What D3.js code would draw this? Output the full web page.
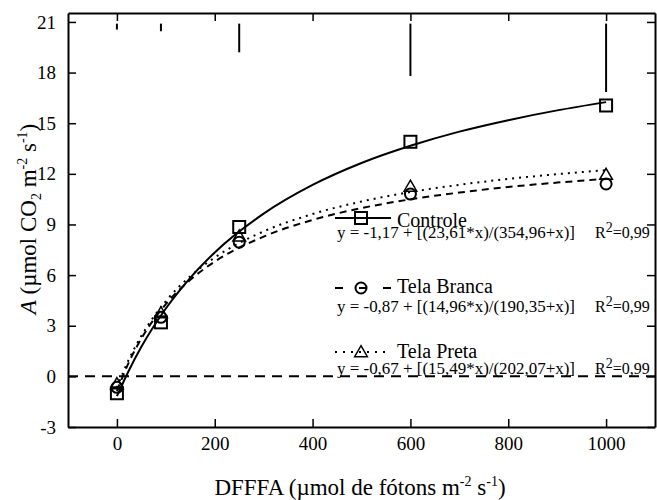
<!DOCTYPE html>
<html>
<head>
<meta charset="utf-8">
<script src="https://cdn.jsdelivr.net/npm/d3@7"></script>
<style>
  body { margin: 0; background: #fff; }
  svg text { font-family: "Liberation Serif", "Times New Roman", serif; fill: #000; }
  .axis path, .axis line { stroke: #000; }
</style>
</head>
<body>
<div id="chart"></div>
<script>

// Measured points
var light = [0, 90, 250, 600, 1000]
var controle = [-1.0, 3.2, 8.85, 13.9, 16.05]
var telaBranca = [-0.65, 3.5, 7.95, 10.8, 11.4]
var telaPreta = [-0.45, 3.75, 8.3, 11.25, 11.95]

// Error bars (hang from the top of the plot)
var errUpper = [20.9, 20.9, 20.9, 20.9, 20.9]
var errLower = [20.55, 20.45, 19.2, 17.8, 16.85]

// Fitted curves
var fitX = [0, 25, 50, 100, 150, 200, 300, 400, 500, 600, 700, 800, 900, 1000]
var fitControle = [-1.17, 0.38, 1.75, 4.02, 5.84, 7.34, 9.64, 11.34, 12.64, 13.66, 14.50, 15.18, 15.76, 16.25]
var fitBranca = [-0.87, 0.87, 2.24, 4.28, 5.72, 6.80, 8.28, 9.27, 9.97, 10.49, 10.89, 11.22, 11.48, 11.70]
var fitPreta = [-0.67, 1.04, 2.40, 4.46, 5.93, 7.04, 8.59, 9.62, 10.36, 10.92, 11.35, 11.70, 11.98, 12.22]

var xTicks = [0, 200, 400, 600, 800, 1000]
var yTicks = [-3, 0, 3, 6, 9, 12, 15, 18, 21]

var legendNames = ["Controle", "Tela Branca", "Tela Preta"]
var equations = [
	"y = -1,17 + [(23,61*x)/(354,96+x)]",
	"y = -0,87 + [(14,96*x)/(190,35+x)]",
	"y = -0,67 + [(15,49*x)/(202,07+x)]"
]
var r2 = ["0,99", "0,99", "0,99"]

var width = 657, height = 500
var mLeft = 68, mRight = 655, mTop = 13, mBottom = 427

var svg = d3.select("#chart").append("svg")
	.attr("width", width)
	.attr("height", height)

var x = d3.scaleLinear().domain([-100, 1100]).range([mLeft, mRight])
var y = d3.scaleLinear().domain([-3, 21.53]).range([mBottom, mTop])

var plain = function(d) { return String(d) }

// axes, ticks pointing inward
svg.append("g")
	.attr("class", "axis")
	.attr("transform", "translate(0," + mBottom + ")")
	.call(d3.axisBottom(x).tickValues(xTicks).tickSize(-8).tickSizeOuter(0).tickPadding(10).tickFormat(plain))

svg.append("g")
	.attr("class", "axis")
	.attr("transform", "translate(0," + mTop + ")")
	.call(d3.axisTop(x).tickValues(xTicks).tickSize(-8).tickSizeOuter(0).tickFormat(""))

svg.append("g")
	.attr("class", "axis")
	.attr("transform", "translate(" + mLeft + ",0)")
	.call(d3.axisLeft(y).tickValues(yTicks).tickSize(-8).tickSizeOuter(0).tickPadding(12).tickFormat(plain))

svg.append("g")
	.attr("class", "axis")
	.attr("transform", "translate(" + mRight + ",0)")
	.call(d3.axisRight(y).tickValues(yTicks).tickSize(-8).tickSizeOuter(0).tickFormat(""))

svg.selectAll(".axis path").attr("stroke-width", 2)
svg.selectAll(".axis line").attr("stroke-width", 1.5)
svg.selectAll(".axis text").attr("font-size", 19).attr("font-family", "Liberation Serif")

// zero line
svg.append("line")
	.attr("x1", mLeft).attr("x2", mRight)
	.attr("y1", y(0)).attr("y2", y(0))
	.attr("stroke", "#000")
	.attr("stroke-width", 2)
	.attr("stroke-dasharray", "10,7")

// error bars
light.forEach(function(d, i) {
	svg.append("line")
		.attr("x1", x(d)).attr("x2", x(d))
		.attr("y1", y(errUpper[i])).attr("y2", y(errLower[i]))
		.attr("stroke", "#000")
		.attr("stroke-width", 2)
})

// fitted curves
var series = [
	{ fit: fitControle, pts: controle, dash: null, marker: "square" },
	{ fit: fitBranca, pts: telaBranca, dash: "7,5", marker: "circle" },
	{ fit: fitPreta, pts: telaPreta, dash: "2,5", marker: "triangle" }
]

var line = d3.line()
	.x(function(d) { return x(d[0]) })
	.y(function(d) { return y(d[1]) })
	.curve(d3.curveMonotoneX)

series.forEach(function(s) {
	svg.append("path")
		.datum(fitX.map(function(v, i) { return [v, s.fit[i]] }))
		.attr("d", line)
		.attr("fill", "none")
		.attr("stroke", "#000")
		.attr("stroke-width", 2)
		.attr("stroke-dasharray", s.dash)
})

// open markers, the curves show through them
function marker(g, type, cx, cy) {
	if (type === "square") {
		g.append("rect")
			.attr("x", cx - 6).attr("y", cy - 6)
			.attr("width", 12).attr("height", 12)
			.attr("fill", "none").attr("stroke", "#000").attr("stroke-width", 2)
	} else if (type === "circle") {
		g.append("circle")
			.attr("cx", cx).attr("cy", cy).attr("r", 5.5)
			.attr("fill", "none").attr("stroke", "#000").attr("stroke-width", 2)
	} else {
		g.append("path")
			.attr("d", d3.symbol().type(d3.symbolTriangle).size(70)())
			.attr("transform", "translate(" + cx + "," + (cy + 1) + ")")
			.attr("fill", "none").attr("stroke", "#000").attr("stroke-width", 1.5)
	}
}

series.forEach(function(s) {
	var g = svg.append("g")
	light.forEach(function(d, i) {
		marker(g, s.marker, x(d), y(s.pts[i]))
	})
})

// legend
var legY = [218, 288, 352]
var labY = [227, 293, 358]
var eqY = [238, 312, 374]

series.forEach(function(s, i) {
	svg.append("line")
		.attr("x1", 335).attr("x2", 391)
		.attr("y1", legY[i]).attr("y2", legY[i])
		.attr("stroke", "#000")
		.attr("stroke-width", 2)
		.attr("stroke-dasharray", i === 0 ? null : (i === 1 ? "8,16" : "2,6"))

	marker(svg, s.marker, 361, legY[i])

	svg.append("text")
		.attr("x", 397).attr("y", labY[i])
		.attr("font-size", 20)
		.text(legendNames[i])

	svg.append("text")
		.attr("x", 337).attr("y", eqY[i])
		.attr("font-size", 16)
		.attr("textLength", 238)
		.attr("lengthAdjust", "spacingAndGlyphs")
		.text(equations[i])

	var t = svg.append("text")
		.attr("x", 595).attr("y", eqY[i])
		.attr("font-size", 16)
	t.append("tspan").text("R")
	t.append("tspan").attr("font-size", 14).attr("dy", -6).text("2")
	t.append("tspan").attr("font-size", 16).attr("dy", 6).text("=" + r2[i])
})

// axis titles
var xt = svg.append("text")
	.attr("x", 360).attr("y", 495)
	.attr("text-anchor", "middle")
	.attr("font-size", 23)
xt.append("tspan").text("DFFFA (\u00b5mol de f\u00f3tons m")
xt.append("tspan").attr("font-size", 14).attr("dy", -9).text("-2")
xt.append("tspan").attr("dy", 9).text(" s")
xt.append("tspan").attr("font-size", 14).attr("dy", -9).text("-1")
xt.append("tspan").attr("dy", 9).text(")")

var yt = svg.append("text")
	.attr("transform", "translate(36,219) rotate(-90)")
	.attr("text-anchor", "middle")
	.attr("font-size", 23)
yt.append("tspan").attr("font-style", "italic").text("A")
yt.append("tspan").text("  (\u00b5mol CO")
yt.append("tspan").attr("font-size", 14).attr("dy", 5).text("2")
yt.append("tspan").attr("dy", -5).text(" m")
yt.append("tspan").attr("font-size", 14).attr("dy", -9).text("-2")
yt.append("tspan").attr("dy", 9).text(" s")
yt.append("tspan").attr("font-size", 14).attr("dy", -9).text("-1")
yt.append("tspan").attr("dy", 9).text(")")

</script>
</body>
</html>
